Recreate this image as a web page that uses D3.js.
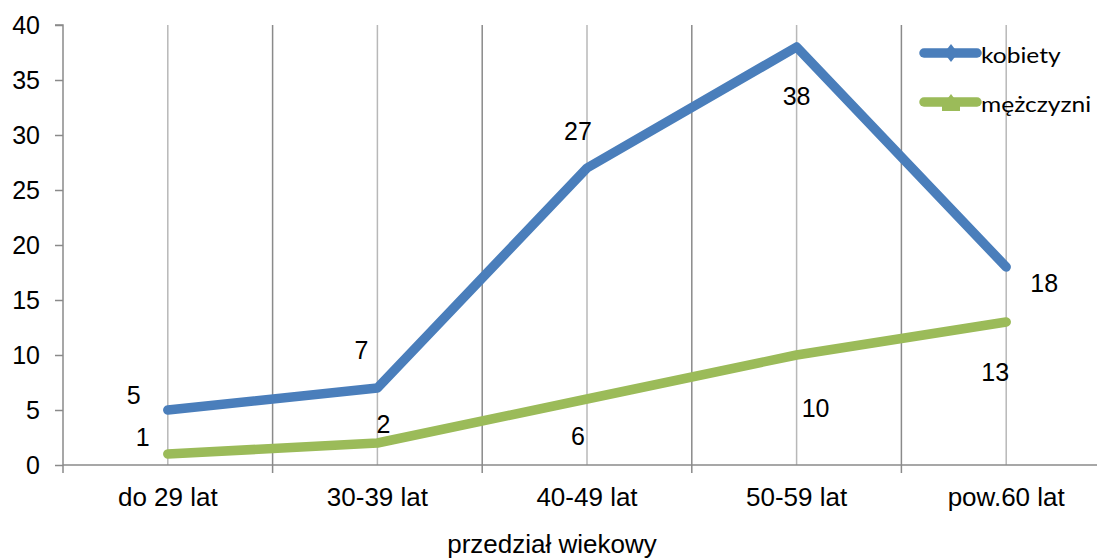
<!DOCTYPE html>
<html><head><meta charset="utf-8">
<script src="https://cdn.jsdelivr.net/npm/d3@7"></script>
<style>body{margin:0;background:#fff}svg{display:block}</style>
</head><body>
<svg id="c" width="1097" height="559"></svg>
<script>
const categories = ["do 29 lat","30-39 lat","40-49 lat","50-59 lat","pow.60 lat"];
const kobiety = [5,7,27,38,18];
const mezczyzni = [1,2,6,10,13];
const yTicks = [0,5,10,15,20,25,30,35,40];
const seriesNames = ["kobiety","mężczyzni"];
const axisTitle = "przedział wiekowy";
// label offsets (dx,dy) relative to point
const kobietyLabelOffsets = [[-34,-15],[-16,-38],[-9,-37],[0,49],[38,16]];
const mezczyzniLabelOffsets = [[-25,-17],[6,-19],[-9,37],[19,53],[-11,50]];

const FONT = "Liberation Sans, Arial, sans-serif";
const svg = d3.select("#c");
const L = 63, R = 1111, T = 25, B = 465;
const x = d3.scaleBand().domain(categories).range([L,R]).padding(0);
const y = d3.scaleLinear().domain([0,40]).range([B,T]);
const cx = d => x(d) + x.bandwidth()/2;

// gridlines: centers (light) and boundaries (darker)
svg.append("g").selectAll("line").data(categories).join("line")
  .attr("x1",d=>cx(d)).attr("x2",d=>cx(d)).attr("y1",T).attr("y2",B)
  .attr("stroke","#b8b8b8").attr("stroke-width",1.5);
svg.append("g").selectAll("line").data(categories.slice(1)).join("line")
  .attr("x1",d=>x(d)).attr("x2",d=>x(d)).attr("y1",T).attr("y2",B+8)
  .attr("stroke","#8a8a8a").attr("stroke-width",1.5);

// y axis
const yAxis = svg.append("g").attr("transform",`translate(${L},0)`)
  .call(d3.axisLeft(y).tickValues(yTicks).tickSize(8).tickPadding(15));
yAxis.select(".domain").attr("stroke","#8a8a8a").attr("stroke-width",1.5).attr("d",`M-8,${T}H0V${B}`);
yAxis.selectAll(".tick line").attr("stroke","#8a8a8a").attr("stroke-width",1.5);
yAxis.selectAll(".tick text").attr("font-family",FONT).attr("font-size",25).attr("fill","#000");

// x axis
const xAxis = svg.append("g").attr("transform",`translate(0,${B})`)
  .call(d3.axisBottom(x).tickSize(0).tickPadding(23));
xAxis.select(".domain").attr("stroke","#8a8a8a").attr("stroke-width",1.5).attr("d",`M${L},0H${R}`);
xAxis.selectAll(".tick text").attr("font-family",FONT).attr("font-size",26).attr("fill","#000");
svg.append("line").attr("x1",L).attr("x2",L).attr("y1",B).attr("y2",B+8).attr("stroke","#8a8a8a").attr("stroke-width",1.5);

svg.append("text").attr("x",552).attr("y",553).attr("text-anchor","middle")
  .attr("font-family",FONT).attr("font-size",26).text(axisTitle);

const line = d3.line().x((d,i)=>cx(categories[i])).y(d=>y(d));
const series = [
  {name:seriesNames[0], vals:kobiety, color:"#4a7ebb", off:kobietyLabelOffsets},
  {name:seriesNames[1], vals:mezczyzni, color:"#9bbb59", off:mezczyzniLabelOffsets}
];
[series[1],series[0]].forEach(s=>{
  svg.append("path").attr("d",line(s.vals)).attr("fill","none").attr("stroke",s.color)
    .attr("stroke-width",9.5).attr("stroke-linecap","round").attr("stroke-linejoin","round");
});
series.forEach(s=>{
  svg.append("g").selectAll("text").data(s.vals).join("text")
    .attr("x",(d,i)=>cx(categories[i])+s.off[i][0])
    .attr("y",(d,i)=>y(d)+s.off[i][1])
    .attr("text-anchor","middle").attr("dominant-baseline","central")
    .attr("font-family",FONT).attr("font-size",25).attr("fill","#000")
    .text(d=>d);
});

// legend
const lg = svg.append("g");
series.forEach((s,i)=>{
  const ly = 53 + i*49;
  lg.append("line").attr("x1",924).attr("x2",977).attr("y1",ly).attr("y2",ly)
    .attr("stroke",s.color).attr("stroke-width",9.5).attr("stroke-linecap","round");
  if(i===0){
    lg.append("path").attr("d",`M951,${ly-9}L958,${ly}L951,${ly+9}L944,${ly}Z`).attr("fill",s.color);
  } else {
    lg.append("path").attr("d",`M951,${ly-8}L960,${ly+4}L942,${ly+4}Z`).attr("fill",s.color);
    lg.append("rect").attr("x",942).attr("y",ly).attr("width",18).attr("height",9).attr("fill",s.color);
  }
  lg.append("text").attr("transform",`translate(981,${ly+10}) scale(1.17,1)`)
    .attr("font-family","Lato, Open Sans, sans-serif").attr("font-size",21).attr("fill","#000").text(s.name);
});
</script>
</body></html>
